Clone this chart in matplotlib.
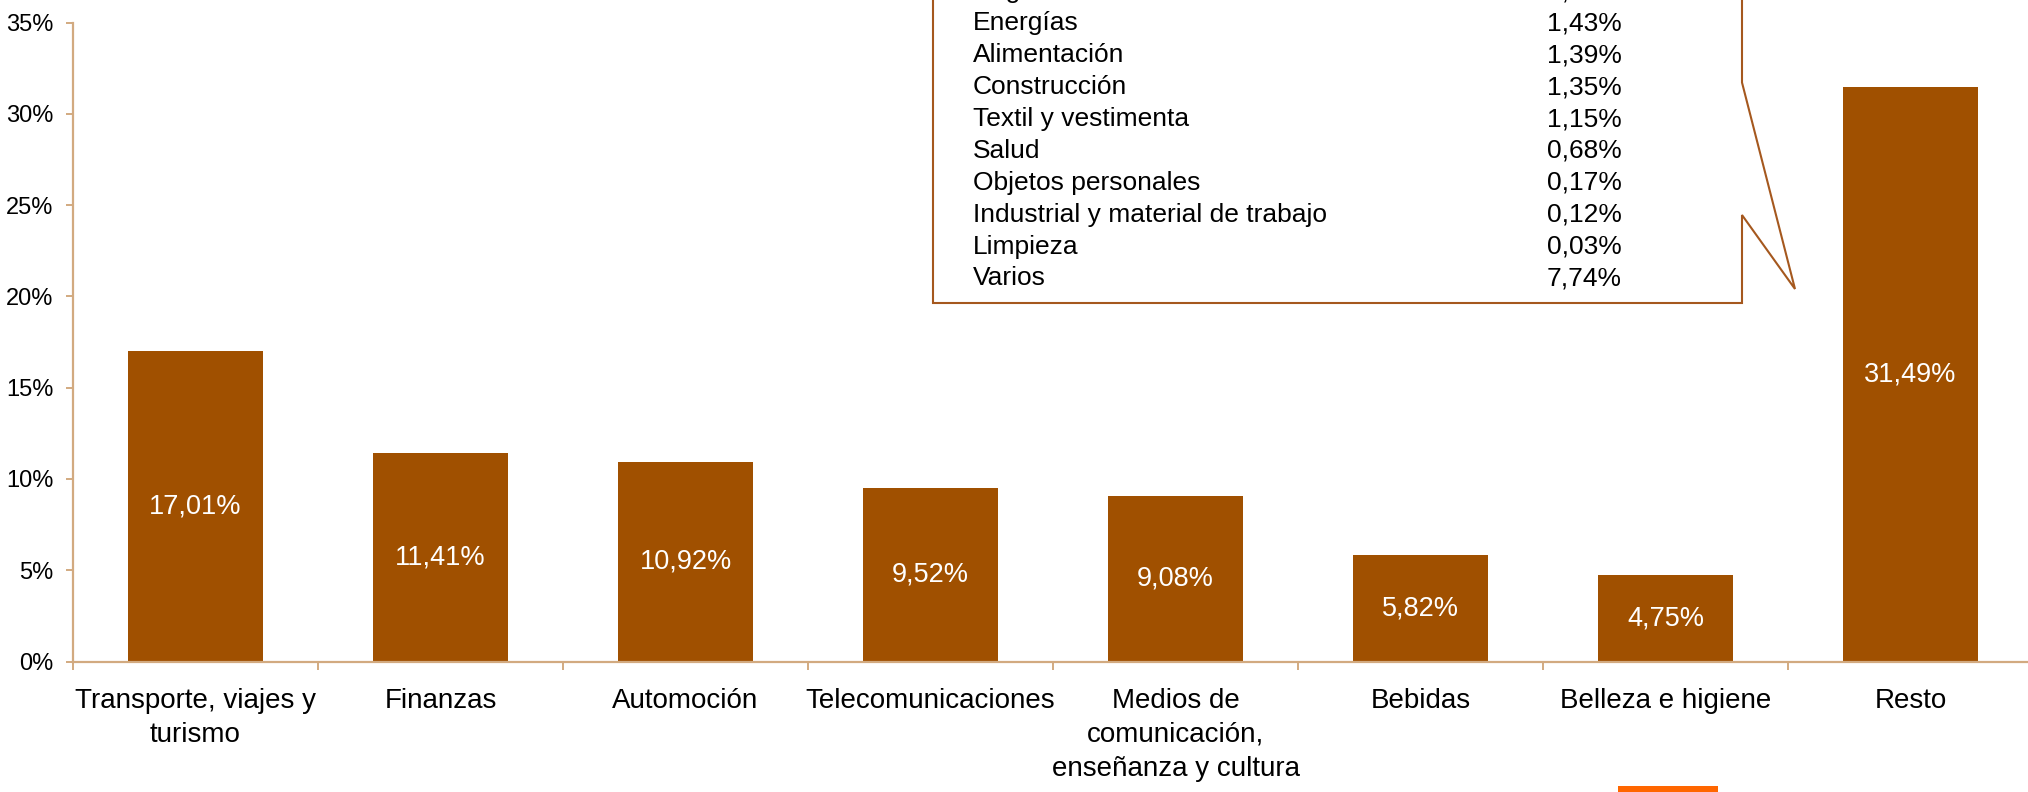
import matplotlib
matplotlib.use("Agg")
import matplotlib.pyplot as plt
from matplotlib.patches import Polygon, Rectangle

plt.rcParams['font.family'] = ['Liberation Sans', 'DejaVu Sans']

categories = ["Transporte, viajes y\nturismo", "Finanzas", "Automoción", "Telecomunicaciones",
              "Medios de\ncomunicación,\nenseñanza y cultura", "Bebidas", "Belleza e higiene", "Resto"]
values = [17.01, 11.41, 10.92, 9.52, 9.08, 5.82, 4.75, 31.49]
value_labels = ["17,01%", "11,41%", "10,92%", "9,52%", "9,08%", "5,82%", "4,75%", "31,49%"]

resto_names = ["Hogar", "Energías", "Alimentación", "Construcción", "Textil y vestimenta", "Salud",
               "Objetos personales", "Industrial y material de trabajo", "Limpieza", "Varios"]
resto_values = ["1,52%", "1,43%", "1,39%", "1,35%", "1,15%", "0,68%", "0,17%", "0,12%", "0,03%", "7,74%"]

yticks = [0, 5, 10, 15, 20, 25, 30, 35]

BAR = "#A05000"
AXC = "#D2AA80"
BOX = "#A5581E"

W, H = 2028, 792
fig = plt.figure(figsize=(W / 100, H / 100), dpi=100)

def fx(x):
    return x / W

def fy(y):
    return 1 - y / H

ax = fig.add_axes([fx(73), fy(661.5), 1960 / W, 639 / H])
xs = [i + 0.5 for i in range(len(values))]
bars = ax.bar(xs, values, width=0.55, color=BAR, zorder=2)
ax.bar_label(bars, labels=value_labels, label_type='center', color='white', fontsize=19.5)

ax.set_xlim(0, len(values))
ax.set_ylim(0, 35)
ax.set_yticks(yticks)
ax.set_yticklabels([f"{t}%" for t in yticks], fontsize=17)
ax.set_xticks(xs)
ax.set_xticklabels(categories, fontsize=20, linespacing=1.4, ha='center', multialignment='center')
ax.set_xticks(range(len(values) + 1), minor=True)
ax.tick_params(axis='x', which='major', length=0, pad=19)
ax.tick_params(axis='x', which='minor', length=6, width=1.4, color=AXC, direction='out')
ax.tick_params(axis='y', which='major', length=5, width=1.4, color=AXC, pad=9, direction='out')
for s in ['top', 'right']:
    ax.spines[s].set_visible(False)
for s in ['left', 'bottom']:
    ax.spines[s].set_color(AXC)
    ax.spines[s].set_linewidth(1.6)

# Callout box listing the "Resto" breakdown
pts_px = [(933, -10), (1742, -10), (1742, 82.5), (1795, 289), (1742, 215), (1742, 303), (933, 303)]
poly = Polygon([(fx(x), fy(y)) for x, y in pts_px], closed=True, transform=fig.transFigure,
               facecolor='white', edgecolor=BOX, linewidth=1.5, zorder=5)
fig.patches.append(poly)

base0 = -1.6
step = 31.9
for i, (n, v) in enumerate(zip(resto_names, resto_values)):
    yb = base0 + i * step
    fig.text(fx(973), fy(yb), n, fontsize=19, va='baseline', ha='left', zorder=6)
    fig.text(fx(1622), fy(yb), v, fontsize=19, va='baseline', ha='right', zorder=6)

# small orange mark at bottom
fig.patches.append(Rectangle((fx(1618), fy(792)), 100 / W, 6.5 / H, transform=fig.transFigure,
                             facecolor='#FF6600', edgecolor='none'))

fig.savefig("out.png", dpi=100)
